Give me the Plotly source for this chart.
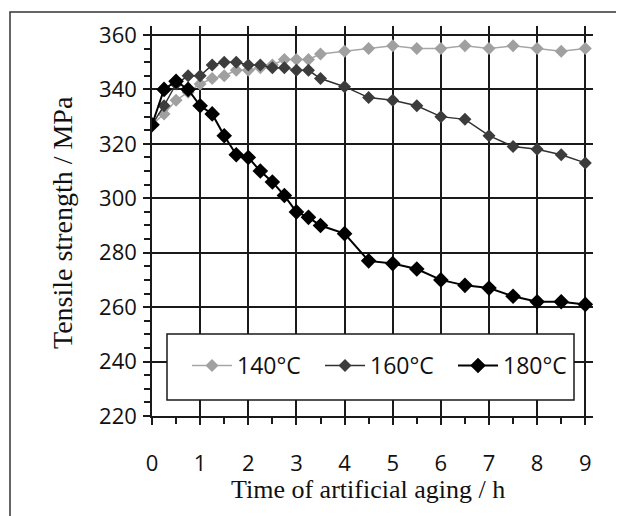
import plotly.graph_objects as go

time_h = [0, 0.25, 0.5, 0.75, 1, 1.25, 1.5, 1.75, 2, 2.25, 2.5, 2.75, 3, 3.25, 3.5,
          4, 4.5, 5, 5.5, 6, 6.5, 7, 7.5, 8, 8.5, 9]
ts_140 = [327, 331, 336, 339, 342, 344, 345, 347, 347, 348, 349, 351, 351, 351, 353,
          354, 355, 356, 355, 355, 356, 355, 356, 355, 354, 355]
ts_160 = [327, 334, 342, 345, 345, 349, 350, 350, 349, 349, 348, 348, 347, 347, 344,
          341, 337, 336, 334, 330, 329, 323, 319, 318, 316, 313]
ts_180 = [327, 340, 343, 340, 334, 331, 323, 316, 315, 310, 306, 301, 295, 293, 290,
          287, 277, 276, 274, 270, 268, 267, 264, 262, 262, 261]
series_names = ["140°C", "160°C", "180°C"]
x_ticks = [0, 1, 2, 3, 4, 5, 6, 7, 8, 9]
y_ticks = [220, 240, 260, 280, 300, 320, 340, 360]

fig = go.Figure()
fig.add_trace(go.Scatter(x=time_h, y=ts_140, name=series_names[0], mode="lines+markers",
                         line=dict(color="#a6a6a6", width=1.5),
                         marker=dict(symbol="diamond", size=10, color="#a0a0a0")))
fig.add_trace(go.Scatter(x=time_h, y=ts_160, name=series_names[1], mode="lines+markers",
                         line=dict(color="#303030", width=1.5),
                         marker=dict(symbol="diamond", size=10, color="#3c3c3c")))
fig.add_trace(go.Scatter(x=time_h, y=ts_180, name=series_names[2], mode="lines+markers",
                         line=dict(color="#000000", width=2),
                         marker=dict(symbol="diamond", size=12, color="#000000")))

# page body has an 8px margin; figure is sized to fill the remaining window
OFF = 8
W, H = 624 - OFF, 516 - OFF
L, R, T, B = 144, 31, 18, 100
pw, ph = W - L - R, H - T - B

def px(sx):
    return (sx - OFF - L) / pw

def py(sy):
    return (H - B - (sy - OFF)) / ph

fig.update_layout(
    width=W, height=H,
    margin=dict(l=L, r=R, t=T, b=B, autoexpand=False),
    paper_bgcolor="white", plot_bgcolor="white",
    font=dict(family="Open Sans", color="#111111"),
    showlegend=True,
    legend=dict(orientation="h", x=px(187), y=py(344), xanchor="left", yanchor="top",
                bgcolor="rgba(0,0,0,0)", borderwidth=0,
                font=dict(family="Open Sans", size=23, color="#111111"),
                entrywidth=78, entrywidthmode="pixels", itemwidth=40),
    xaxis=dict(range=[0, 9.16], tickvals=x_ticks, ticktext=[str(v) for v in x_ticks],
               automargin=False,
               showgrid=True, gridcolor="#1a1a1a", gridwidth=1.5,
               showline=True, linecolor="#1a1a1a", linewidth=1.5,
               ticks="outside", ticklen=7, tickwidth=1.5, tickcolor="#1a1a1a",
               tickfont=dict(size=22, family="Open Sans", color="#111111"),
               ticklabelstandoff=20, zeroline=False,
               minor=dict(dtick=0.5, tick0=0, ticks="outside", ticklen=6, tickwidth=1.5,
                          tickcolor="#1a1a1a", showgrid=False)),
    yaxis=dict(range=[220, 363.3], tickvals=y_ticks, ticktext=[str(v) for v in y_ticks],
               automargin=False,
               showgrid=True, gridcolor="#1a1a1a", gridwidth=1.5,
               showline=True, linecolor="#1a1a1a", linewidth=1.5,
               ticks="outside", ticklen=7, tickwidth=1.5, tickcolor="#1a1a1a",
               tickfont=dict(size=22, family="Open Sans", color="#111111"),
               ticklabelstandoff=2, zeroline=False,
               minor=dict(dtick=5, tick0=220, ticks="outside", ticklen=6, tickwidth=1.5,
                          tickcolor="#1a1a1a", showgrid=False)),
    shapes=[
        dict(type="rect", xref="paper", yref="paper", x0=px(167), x1=px(574), y0=py(400), y1=py(334),
             line=dict(color="#1a1a1a", width=1.5), fillcolor="white", layer="above"),
        dict(type="rect", xref="paper", yref="paper", x0=px(10), x1=px(640), y0=py(530), y1=py(12),
             line=dict(color="#333333", width=1.5), fillcolor="rgba(0,0,0,0)", layer="above"),
    ],
    annotations=[
        dict(text="Time of artificial aging / h", xref="paper", yref="paper",
             x=px(368), y=py(489), xanchor="center", yanchor="middle", showarrow=False,
             font=dict(family="Liberation Serif", size=26, color="#111111")),
        dict(text="Tensile strength / MPa", xref="paper", yref="paper",
             x=px(62), y=py(223), xanchor="center", yanchor="middle", showarrow=False,
             textangle=-90,
             font=dict(family="Liberation Serif", size=28, color="#111111")),
    ],
)

fig.write_html("out.html")
